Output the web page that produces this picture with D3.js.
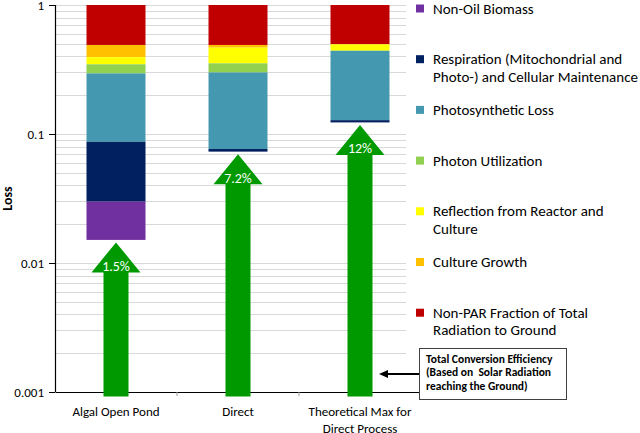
<!DOCTYPE html>
<html>
<head>
<meta charset="utf-8">
<script src="https://cdn.jsdelivr.net/npm/d3@7"></script>
<style>
  body { margin: 0; background: #fff; }
  svg { display: block; }
  text { font-family: Carlito, Lato, "Open Sans", sans-serif; }
</style>
</head>
<body>
<div id="graph"></div>
<script>
// categories (x axis) - each label can have two lines
var categories = ["Algal Open Pond", "Direct", "Theoretical Max"];
var categoryLines = [["Algal Open Pond"], ["Direct"], ["Theoretical Max for", "Direct Process"]];

// loss layers, from the top of the bar (1) downward
var layerNames = ["Non-PAR Fraction of Total Radiation to Ground", "Culture Growth", "Reflection from Reactor and Culture",
  "Photon Utilization", "Photosynthetic Loss", "Respiration (Mitochondrial and Photo-) and Cellular Maintenance", "Non-Oil Biomass"];
var layerColors = ["#C00000", "#FFC000", "#FFFF00", "#92D050", "#4499B1", "#002060", "#7030A0"];

// fraction remaining after each loss layer
var pondLevels   = [0.49, 0.394, 0.347, 0.295, 0.087, 0.0299, 0.0151];
var directLevels = [0.49, 0.467, 0.353, 0.300, 0.0765, 0.073, 0.073];
var theoLevels   = [0.496, 0.496, 0.442, 0.442, 0.128, 0.123, 0.123];
var efficiencyLabels = ["1.5%", "7.2%", "12%"];

// y axis ticks
var yTickValues = [1, 0.1, 0.01, 0.001];
var yTickLabels = ["1", "0.1", "0.01", "0.001"];

// legend, top to bottom (lines of text)
var legendLines = [["Non-Oil Biomass"], ["Respiration (Mitochondrial and", "Photo-) and Cellular Maintenance"],
  ["Photosynthetic Loss"], ["Photon Utilization"], ["Reflection from Reactor and", "Culture"], ["Culture Growth"],
  ["Non-PAR Fraction of Total", "Radiation to Ground"]];
var legendColors = ["#7030A0", "#002060", "#4499B1", "#92D050", "#FFFF00", "#FFC000", "#C00000"];

var noteLines = ["Total Conversion Efficiency", "(Based on\u00a0 Solar Radiation", "reaching the Ground)"];

var w = 640, h = 433;
var svg = d3.select("div#graph").append("svg").attr("width", w).attr("height", h);

var plotLeft = 55, plotRight = 421, gridRight = 406, plotTop = 5, plotBottom = 392;
var x = d3.scaleBand().domain(categories).range([plotLeft, plotRight]);
var y = d3.scaleLog().domain([0.001, 1]).range([plotBottom, plotTop]);

// gridlines (major + minor decades)
var gridVals = [];
[-3, -2, -1].forEach(function(e) {
  d3.range(1, 10).forEach(function(k) { gridVals.push(k * Math.pow(10, e)); });
});
gridVals.push(1);
svg.selectAll("line.grid")
  .data(gridVals.filter(function(v) { return v > 0.0011; })).enter().append("line")
  .attr("class", "grid")
  .attr("x1", plotLeft).attr("x2", gridRight)
  .attr("y1", function(d) { return Math.round(y(d)) + 0.5; })
  .attr("y2", function(d) { return Math.round(y(d)) + 0.5; })
  .style("stroke", "#D9D9D9").style("stroke-width", "1px");

// stacked bars
var allLevels = [pondLevels, directLevels, theoLevels];
var barWidth = 59;
var segs = [];
allLevels.forEach(function(levels, i) {
  var prev = 1;
  levels.forEach(function(v, j) {
    if (v < prev) segs.push({cat: categories[i], top: prev, bot: v, color: layerColors[j]});
    prev = v;
  });
});
svg.selectAll("rect.seg")
  .data(segs).enter().append("rect")
  .attr("class", "seg")
  .attr("x", function(d) { return x(d.cat) + x.bandwidth() / 2 - barWidth / 2; })
  .attr("width", barWidth)
  .attr("y", function(d) { return y(d.top); })
  .attr("height", function(d) { return y(d.bot) - y(d.top); })
  .attr("fill", function(d) { return d.color; });

// axes
var yAxis = svg.append("g")
  .attr("transform", "translate(" + plotLeft + ",0)")
  .call(d3.axisLeft(y).tickValues(yTickValues).tickSize(6)
    .tickFormat(function(d, i) { return yTickLabels[i]; }));
yAxis.select(".domain").attr("stroke", "#000").attr("stroke-width", 1.2).attr("d", "M0.5," + plotTop + "V" + plotBottom);
yAxis.selectAll(".tick line").attr("stroke", "#000");
yAxis.selectAll("text").style("font-size", "13px").attr("x", -11).attr("fill", "#000")
  .style("font-family", "Carlito, Lato, 'Open Sans', sans-serif");

var xAxis = svg.append("g")
  .attr("transform", "translate(0," + plotBottom + ")")
  .call(d3.axisBottom(x).tickSize(0).tickFormat(""));
xAxis.select(".domain").attr("stroke", "#000").attr("stroke-width", 1.2);
// category separators
svg.selectAll("line.sep")
  .data(categories.slice(1)).enter().append("line")
  .attr("x1", function(d) { return x(d); }).attr("x2", function(d) { return x(d); })
  .attr("y1", plotBottom).attr("y2", plotBottom + 4)
  .style("stroke", "#999");

// category labels
categories.forEach(function(c, i) {
  var t = svg.append("text")
    .attr("x", x(c) + x.bandwidth() / 2).attr("y", 416)
    .attr("text-anchor", "middle").style("font-size", "13px").attr("fill", "#000");
  categoryLines[i].forEach(function(line, k) {
    t.append("tspan").attr("x", x(c) + x.bandwidth() / 2).attr("dy", k === 0 ? 0 : 16.6).text(line);
  });
});

// y axis title
svg.append("text")
  .attr("transform", "translate(12," + ((plotTop + plotBottom) / 2) + ") rotate(-90)")
  .attr("text-anchor", "middle").style("font-size", "14px").style("font-weight", "bold")
  .text("Loss");

// green efficiency arrows
var arrowData = allLevels.map(function(levels, i) {
  return {cat: categories[i], value: levels[levels.length - 1], label: efficiencyLabels[i]};
});
var headH = 30, headHalf = 24.5, shaftHalf = 12.5, arrowBottom = plotBottom + 4.5;
svg.selectAll("path.arrow")
  .data(arrowData).enter().append("path")
  .attr("class", "arrow")
  .attr("fill", "#009A00")
  .attr("d", function(d) {
    var cx = x(d.cat) + x.bandwidth() / 2, tip = y(d.value) + 2.5, base = tip + headH;
    return "M" + cx + "," + tip + "L" + (cx + headHalf) + "," + base + "L" + (cx + shaftHalf) + "," + base +
      "L" + (cx + shaftHalf) + "," + arrowBottom + "L" + (cx - shaftHalf) + "," + arrowBottom +
      "L" + (cx - shaftHalf) + "," + base + "L" + (cx - headHalf) + "," + base + "Z";
  });
svg.selectAll("text.eff")
  .data(arrowData).enter().append("text")
  .attr("class", "eff")
  .attr("x", function(d) { return x(d.cat) + x.bandwidth() / 2; })
  .attr("y", function(d) { return y(d.value) + 2.5 + headH - 1.5; })
  .attr("text-anchor", "middle").attr("fill", "#fff").style("font-size", "14px")
  .text(function(d) { return d.label; });

// legend
var legend = svg.selectAll("g.legend")
  .data(legendLines).enter().append("g")
  .attr("class", "legend")
  .attr("transform", function(d, i) { return "translate(416," + (8.5 + i * 50.7) + ")"; });
legend.append("rect")
  .attr("x", 0).attr("y", -4).attr("width", 8).attr("height", 8)
  .attr("fill", function(d, i) { return legendColors[i]; });
legend.each(function(lines) {
  var t = d3.select(this).append("text").attr("x", 17).attr("y", 5).style("font-size", "15px").attr("fill", "#000");
  lines.forEach(function(line, k) {
    t.append("tspan").attr("x", 17).attr("dy", k === 0 ? 0 : 17.7).text(line);
  });
});

// note box with arrow
svg.append("rect")
  .attr("x", 419.5).attr("y", 348.5).attr("width", 147).attr("height", 51)
  .attr("fill", "#fff").style("stroke", "#404040").style("stroke-width", "1px");
var note = svg.append("text").attr("x", 426).attr("y", 363).style("font-size", "11.5px").style("font-weight", "bold");
noteLines.forEach(function(line, k) {
  note.append("tspan").attr("x", 426).attr("dy", k === 0 ? 0 : 13.4).text(line);
});
svg.append("line")
  .attr("x1", 419).attr("y1", 374).attr("x2", 386).attr("y2", 374)
  .style("stroke", "#000").style("stroke-width", "2px");
svg.append("path")
  .attr("d", "M379,374L388,370L388,378Z").attr("fill", "#000");
</script>
</body>
</html>
